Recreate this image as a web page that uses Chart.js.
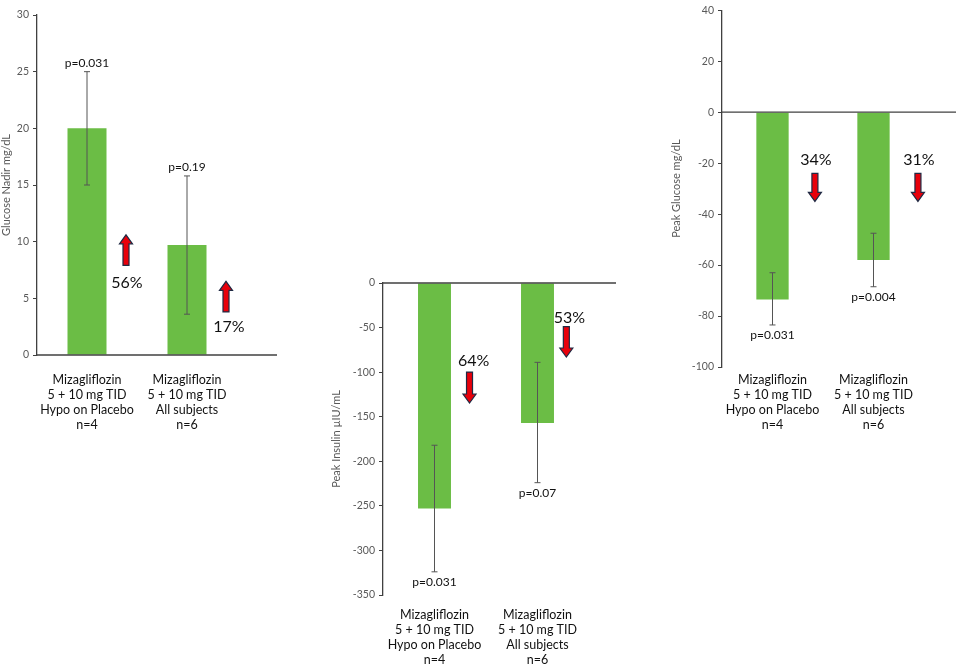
<!DOCTYPE html>
<html><head><meta charset="utf-8">
<script src="https://cdn.jsdelivr.net/npm/chart.js@4"></script>
<style>
body{margin:0;background:#fff;width:956px;height:666px;position:relative;overflow:hidden}
.c{position:absolute}
</style></head><body>
<div class="c" style="left:0;top:0;width:290px;height:440px"><canvas id="c1"></canvas></div>
<div class="c" style="left:330px;top:270px;width:290px;height:396px"><canvas id="c2"></canvas></div>
<div class="c" style="left:670px;top:0;width:286px;height:440px"><canvas id="c3"></canvas></div>
<script>
const categories = [
  ["Mizagliflozin","5 + 10 mg TID","Hypo on Placebo","n=4"],
  ["Mizagliflozin","5 + 10 mg TID","All subjects","n=6"]
];
// Panel 1: Glucose Nadir
const nadirValues = [20, 9.7];
const nadirLow = [15, 3.6];
const nadirHigh = [25, 15.8];
const nadirP = ["p=0.031", "p=0.19"];
const nadirPct = ["56%", "17%"];
// Panel 2: Peak Insulin
const insulinValues = [-253, -157];
const insulinLow = [-324, -224];
const insulinHigh = [-182, -89];
const insulinP = ["p=0.031", "p=0.07"];
const insulinPct = ["64%", "53%"];
// Panel 3: Peak Glucose
const peakValues = [-73.5, -58];
const peakLow = [-83.5, -68.5];
const peakHigh = [-63, -47.5];
const peakP = ["p=0.031", "p=0.004"];
const peakPct = ["34%", "31%"];

const FONT = "Lato, 'Open Sans', sans-serif";

function arrow(ctx, x, yBase, yTip){
  const dir = yTip < yBase ? -1 : 1;
  const head = 9, sw = 3, hw = 6.5;
  const yNeck = yTip - dir*head;
  ctx.save();
  ctx.beginPath();
  ctx.moveTo(x - sw, yBase);
  ctx.lineTo(x - sw, yNeck);
  ctx.lineTo(x - hw, yNeck);
  ctx.lineTo(x, yTip);
  ctx.lineTo(x + hw, yNeck);
  ctx.lineTo(x + sw, yNeck);
  ctx.lineTo(x + sw, yBase);
  ctx.closePath();
  ctx.fillStyle = "#e8000b";
  ctx.fill();
  ctx.lineWidth = 1.2;
  ctx.strokeStyle = "#1f2a44";
  ctx.stroke();
  ctx.restore();
}

function makeChart(id, cfg){
  const overlay = {
    id: 'overlay',
    afterDatasetsDraw(chart){
      const ctx = chart.ctx, xs = chart.scales.x, ys = chart.scales.y;
      const a = chart.chartArea;
      ctx.save();
      ctx.strokeStyle = "#404040"; ctx.lineWidth = 1.3;
      ctx.beginPath();
      const y0 = ys.getPixelForValue(0);
      ctx.moveTo(a.left, y0); ctx.lineTo(a.right + cfg.lineExt, y0); ctx.stroke();
      ctx.strokeStyle = "#555"; ctx.lineWidth = 1;
      ctx.font = "12px " + FONT; ctx.fillStyle = "#111"; ctx.textAlign = "center";
      cfg.values.forEach((v, i) => {
        const x = xs.getPixelForValue(i);
        const yl = ys.getPixelForValue(cfg.low[i]), yh = ys.getPixelForValue(cfg.high[i]);
        ctx.beginPath();
        ctx.moveTo(x, yl); ctx.lineTo(x, yh);
        ctx.moveTo(x-3, yl); ctx.lineTo(x+3, yl);
        ctx.moveTo(x-3, yh); ctx.lineTo(x+3, yh);
        ctx.stroke();
        if (cfg.pAbove) { ctx.textBaseline = "bottom"; ctx.fillText(cfg.p[i], x, yh - 3); }
        else { ctx.textBaseline = "top"; ctx.fillText(cfg.p[i], x, yl + 4); }
      });
      ctx.font = "16px " + FONT; ctx.textBaseline = "middle";
      cfg.pct.forEach((t, i) => {
        const ax = xs.getPixelForValue(cfg.arrowX[i]);
        arrow(ctx, ax, ys.getPixelForValue(cfg.arrowBase[i]), ys.getPixelForValue(cfg.arrowTip[i]));
        ctx.fillStyle = "#111";
        ctx.fillText(t, xs.getPixelForValue(cfg.textX[i]), ys.getPixelForValue(cfg.textY[i]));
      });
      ctx.restore();
    }
  };
  return new Chart(document.getElementById(id), {
    type: 'bar',
    data: { labels: categories, datasets: [{ data: cfg.values, backgroundColor: "#6bbd45",
      barPercentage: cfg.barPct, categoryPercentage: 1 }] },
    options: {
      responsive: true, maintainAspectRatio: false, animation: false,
      layout: { padding: { top: cfg.padTop, right: cfg.padRight, left: 0, bottom: 0 } },
      plugins: { legend: { display: false }, tooltip: { enabled: false } },
      scales: {
        x: {
          grid: { display: false }, border: { display: false },
          ticks: { color: "#111", font: { family: FONT, size: 12.5 }, padding: cfg.xPad, maxRotation: 0, autoSkip: false },
          afterFit(s){ s.height = cfg.xH; }
        },
        y: {
          min: cfg.min, max: cfg.max,
          ticks: { stepSize: cfg.step, color: "#595959", font: { family: FONT, size: 10.5 }, padding: 4 },
          grid: { drawOnChartArea: false, drawTicks: true, tickLength: 4, color: "#404040" },
          border: { display: true, color: "#404040", width: 1.3 },
          title: { display: true, text: cfg.title, color: "#595959", font: { family: FONT, size: 11 }, padding: 0 },
          afterFit(s){ s.width = cfg.yW; }
        }
      }
    },
    plugins: [overlay]
  });
}

makeChart('c1', { values: nadirValues, low: nadirLow, high: nadirHigh, p: nadirP, pct: nadirPct, pAbove: true,
  min: 0, max: 30, step: 5, title: "Glucose Nadir mg/dL", barPct: 0.39,
  padTop: 15, padRight: 53, yW: 37, xH: 85, xPad: 9, lineExt: 40,
  arrowX: [0.39, 1.39], arrowBase: [7.9, 3.8], arrowTip: [10.6, 6.5], textX: [0.40, 1.42], textY: [6.35, 2.5] });

makeChart('c2', { values: insulinValues, low: insulinLow, high: insulinHigh, p: insulinP, pct: insulinPct, pAbove: false,
  min: -350, max: 0, step: 50, title: "Peak Insulin µIU/mL", barPct: 0.32,
  padTop: 13, padRight: 31, yW: 53, xH: 71, xPad: 4, lineExt: 27,
  arrowX: [0.34, 1.28], arrowBase: [-99.9, -49], arrowTip: [-134.6, -83], textX: [0.38, 1.31], textY: [-87.5, -39] });

makeChart('c3', { values: peakValues, low: peakLow, high: peakHigh, p: peakP, pct: peakPct, pAbove: false,
  min: -100, max: 40, step: 20, title: "Peak Glucose mg/dL", barPct: 0.32,
  padTop: 8, padRight: 32, yW: 52, xH: 73, xPad: -3, lineExt: 40,
  arrowX: [0.42, 1.44], arrowBase: [-24, -24], arrowTip: [-35, -35], textX: [0.43, 1.45], textY: [-18.7, -18.7] });
</script>
</body></html>
